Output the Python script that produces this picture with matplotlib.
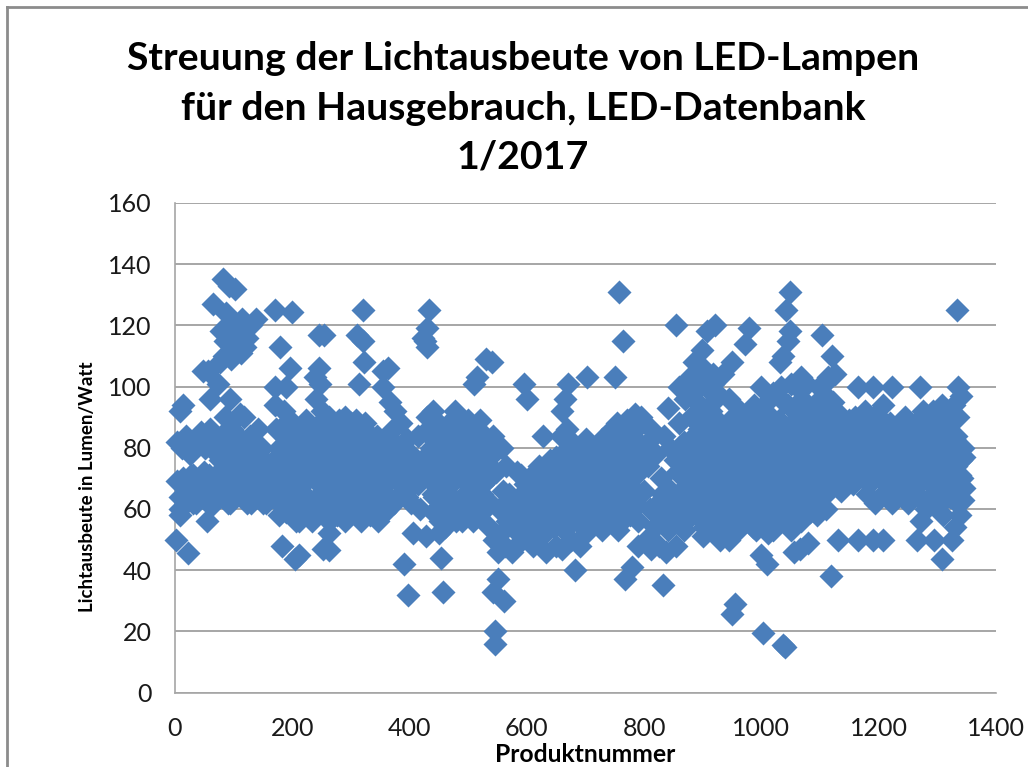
import numpy as np
import matplotlib
matplotlib.use('Agg')
import matplotlib.pyplot as plt
from matplotlib.lines import Line2D

plt.rcParams['font.family'] = ['Lato', 'DejaVu Sans']

TITEL = "Streuung der Lichtausbeute von LED-Lampen\nfür den Hausgebrauch, LED-Datenbank\n1/2017"
X_TICKS = [0, 200, 400, 600, 800, 1000, 1200, 1400]
Y_TICKS = [0, 20, 40, 60, 80, 100, 120, 140, 160]

# Ausreisser
ausreisser = [
    (82, 135), (92, 133), (102, 132), (64, 127), (87, 124), (170, 125), (199, 124.5), (321, 125), (433, 125),
    (246, 117), (254, 117), (310, 117), (321, 115), (429, 119), (423, 116), (429, 113), (427, 115), (179, 113),
    (322, 108), (48, 105), (56, 105), (196, 106), (246, 106), (238, 103), (364, 106), (355, 105),
    (314, 101), (170, 100), (190, 100), (247, 101), (355, 100), (13, 94), (9, 92), (74, 101), (60, 96), (94, 96),
    (2, 50), (22, 45.5), (54, 56), (8, 58), (182, 48), (204, 43.5), (212, 45), (263, 52), (262, 46.5), (252, 47),
    (390, 42), (398, 32), (457, 33), (453, 44), (406, 52), (428, 51), (450, 52), (460, 54),
    (545, 20), (546, 16), (561, 30), (551, 37), (542, 33), (628, 84), (682, 40), (660, 47),
    (530, 109), (541, 108), (515, 103), (510, 101), (757, 131), (764, 115), (703, 103), (750, 103), (855, 120),
    (860, 100), (840, 93), (785, 91), (768, 37), (780, 41), (789, 48), (832, 35),
    (595, 101), (600, 96), (670, 101), (665, 96), (660, 92), (855, 48), (812, 47),
    (920, 120), (908, 118), (898, 112), (885, 108), (878, 103), (950, 108), (935, 104),
    (978, 119), (972, 114), (1000, 100), (955, 29), (950, 25.5), (945, 50), (1003, 19.5), (1040, 15), (1036, 15.5),
    (1048, 131), (1042, 125), (1048, 118), (1046, 115), (1036, 110), (1032, 108), (1103, 117), (1120, 110),
    (1125, 104), (1113, 103), (1119, 38), (1130, 50), (1110, 70), (1095, 58), (1065, 47), (1055, 46), (1080, 49),
    (1165, 100), (1190, 100), (1222, 100), (1270, 100), (1333, 125), (1336, 100), (1340, 97),
    (1165, 50), (1190, 50), (1208, 50), (1265, 50), (1308, 43.5), (1295, 50), (1325, 50), (1330, 54),
    (1345, 67), (1343, 63), (1338, 58), (1010, 42), (1000, 45), (930, 50), (900, 51),
    # obere Wolke bei Produkt 70-140
    (78, 118), (85, 115), (92, 120), (100, 112), (108, 118), (115, 122), (122, 116), (130, 120), (138, 122), (96, 109),
    (104, 116), (112, 111), (120, 113), (84, 110), (76, 108),
]

# dichter Bereich links
punkte_links = [
    (3, 82), (12, 80), (18, 84), (26, 78), (34, 82), (44, 85), (52, 80), (60, 86), (70, 84), (78, 79),
    (3, 69), (8, 64), (14, 70), (9, 60), (22, 66), (28, 71), (36, 62), (42, 68), (50, 72), (55, 64),
    (62, 61), (68, 68), (75, 72), (82, 64), (90, 62), (96, 70), (100, 76), (108, 84), (112, 70), (118, 90),
    (76, 76), (86, 90), (98, 86), (110, 91), (120, 78), (128, 84), (134, 72), (142, 86), (150, 76), (158, 68),
    (120, 66), (130, 62), (140, 70), (148, 80), (155, 62), (163, 74), (172, 86), (178, 58), (182, 66), (186, 92),
    (170, 94), (178, 80), (188, 72), (194, 60), (200, 84), (206, 68), (212, 56), (218, 78), (224, 64), (230, 58),
    (176, 74), (190, 88), (204, 62), (214, 72), (228, 76), (236, 86), (242, 70), (250, 60), (256, 80), (262, 90),
    (240, 96), (250, 92), (258, 66), (268, 74), (276, 58), (284, 84), (292, 68), (300, 88), (306, 62), (314, 78),
    (270, 86), (280, 72), (290, 90), (298, 60), (308, 72), (318, 64), (324, 88), (332, 58), (338, 76), (344, 84),
    (326, 68), (336, 66), (348, 60), (354, 74), (360, 68), (366, 95), (372, 86), (378, 64), (384, 80), (392, 72),
    (358, 80), (368, 72), (376, 92), (386, 88), (396, 64), (402, 78), (408, 68), (414, 84), (418, 60), (424, 72),
    (430, 90), (436, 80), (442, 64), (448, 88), (454, 74), (460, 60), (466, 84), (472, 70), (478, 92), (484, 62),
    (440, 92), (452, 66), (464, 76), (476, 80), (488, 74), (494, 84), (500, 66), (506, 78), (512, 58), (518, 72),
    (430, 72), (446, 58), (470, 64), (490, 56), (500, 86), (510, 84), (520, 89), (526, 68), (532, 78), (538, 62),
    (524, 60), (534, 70), (542, 84), (548, 72), (552, 60), (558, 80), (564, 74), (536, 54), (544, 50), (550, 46),
]

# dichter Bereich Mitte
punkte_mitte = [
    (556, 52), (562, 48), (568, 58), (574, 46), (580, 54), (586, 64), (592, 50), (598, 60), (604, 70), (610, 48),
    (560, 66), (572, 62), (584, 72), (596, 68), (606, 56), (614, 64), (620, 74), (626, 52), (632, 46), (638, 60),
    (618, 50), (630, 68), (640, 76), (646, 54), (652, 66), (658, 84), (664, 58), (670, 74), (676, 50), (682, 64),
    (650, 48), (660, 78), (668, 86), (672, 62), (680, 70), (688, 58), (694, 76), (700, 52), (706, 66), (712, 80),
    (690, 48), (700, 72), (710, 60), (718, 70), (724, 56), (730, 74), (736, 84), (742, 62), (748, 78), (754, 88),
    (720, 66), (730, 60), (740, 72), (746, 86), (756, 68), (762, 80), (768, 88), (774, 72), (780, 84), (786, 62),
    (760, 74), (770, 78), (776, 58), (788, 76), (794, 90), (800, 66), (806, 74), (812, 86), (818, 54), (824, 62),
    (796, 80), (804, 50), (810, 60), (820, 78), (828, 70), (834, 58), (838, 46), (842, 54), (846, 66), (852, 76),
    (826, 48), (834, 84), (844, 80), (850, 60), (856, 72), (862, 56), (868, 82), (874, 68), (880, 90), (886, 76),
    (860, 88), (870, 96), (878, 60), (884, 98), (890, 64), (896, 84), (902, 54), (908, 72), (914, 92), (920, 60),
    (890, 102), (900, 106), (906, 100), (912, 64), (918, 104), (926, 80), (932, 68), (938, 56), (944, 96), (948, 74),
    (894, 70), (904, 58), (924, 98), (930, 88), (936, 76), (942, 62), (952, 84), (956, 54), (960, 70), (964, 92),
]

# dichter Bereich rechts
punkte_rechts = [
    (958, 64), (966, 58), (970, 78), (976, 86), (982, 66), (986, 54), (990, 74), (994, 90), (1000, 60), (1004, 82),
    (968, 72), (978, 60), (988, 94), (996, 68), (1008, 72), (1012, 52), (1016, 88), (1020, 98), (1024, 62), (1028, 78),
    (1006, 92), (1014, 66), (1022, 56), (1030, 86), (1034, 100), (1038, 70), (1042, 60), (1046, 94), (1050, 80), (1054, 62),
    (1040, 84), (1048, 74), (1056, 88), (1060, 100), (1064, 72), (1068, 103), (1072, 82), (1076, 66), (1080, 92), (1084, 60),
    (1070, 96), (1078, 86), (1086, 76), (1090, 90), (1094, 68), (1098, 100), (1102, 82), (1106, 94), (1110, 60), (1114, 76),
    (1100, 74), (1108, 88), (1116, 96), (1120, 84), (1124, 72), (1128, 92), (1132, 80), (1136, 66), (1140, 86), (1144, 76),
    (1148, 88), (1152, 70), (1156, 82), (1160, 90), (1164, 76), (1168, 84), (1172, 72), (1176, 92), (1180, 80), (1184, 86),
    (1188, 74), (1192, 90), (1196, 78), (1200, 84), (1204, 70), (1208, 94), (1212, 80), (1216, 64), (1220, 88), (1224, 74),
    (1228, 82), (1232, 68), (1236, 86), (1240, 78), (1244, 90), (1248, 72), (1252, 84), (1256, 76), (1260, 66), (1264, 88),
    (1268, 80), (1272, 56), (1276, 92), (1280, 70), (1284, 84), (1288, 62), (1292, 92), (1296, 76), (1300, 88), (1304, 66),
    (1272, 70), (1280, 60), (1290, 82), (1298, 70), (1306, 84), (1310, 58), (1314, 74), (1318, 90), (1322, 64), (1326, 80),
    (1308, 94), (1316, 68), (1324, 72), (1328, 94), (1332, 84), (1336, 90), (1340, 76), (1344, 80), (1334, 66), (1342, 70),
]

zeile_53 = [580, 608, 636, 664, 700, 728, 756, 840, 868, 930, 960, 990, 1020, 1050]
zeile_56 = [206, 234, 262, 290, 318, 346, 452, 480, 508, 566, 594, 622, 650, 678, 706, 734, 762, 790, 844, 872, 900,
            928, 956, 984, 1012, 1040, 1068]
zeile_59 = [190, 218, 246, 274, 302, 330, 358, 440, 468, 496, 524, 580, 608, 636, 664, 692, 720, 748, 776,
            830, 858, 886, 914, 942, 970, 998, 1026, 1054, 1082]
zeile_62 = [30, 58, 94, 122, 150, 178, 206, 234, 262, 290, 318, 346, 374, 402, 454, 482, 510, 538, 584, 612, 640,
            668, 696, 724, 752, 780, 844, 872, 900, 928, 956, 984, 1012, 1040, 1068, 1096, 1194, 1222, 1250, 1278,
            1306, 1334]
zeile_65 = [24, 52, 80, 108, 136, 164, 192, 220, 248, 276, 304, 332, 360, 388, 440, 468, 496, 524, 570, 598, 626,
            654, 682, 710, 738, 766, 794, 830, 858, 886, 914, 942, 970, 998, 1026, 1054, 1082, 1110, 1180, 1208,
            1236, 1264, 1292, 1320]
zeile_68 = [16, 44, 72, 100, 134, 162, 190, 218, 246, 274, 302, 330, 358, 386, 414, 442, 470, 498, 526, 604, 632, 660,
            688, 716, 744, 772, 876, 904, 932, 960, 988, 1016, 1044, 1072, 1100, 1128, 1156, 1184, 1212, 1240,
            1268, 1296, 1324]
zeile_71 = [30, 58, 120, 148, 176, 204, 232, 260, 288, 316, 344, 372, 400, 428, 456, 484, 512, 540, 590, 618, 646,
            674, 702, 730, 758, 786, 890, 918, 946, 974, 1002, 1030, 1058, 1086, 1114, 1142, 1170, 1198, 1226,
            1254, 1282, 1310, 1338]
zeile_74 = [104, 132, 160, 188, 216, 244, 272, 300, 328, 356, 384, 412, 440, 468, 496, 524, 636, 664, 692, 720, 748,
            776, 884, 912, 940, 968, 996, 1024, 1052, 1080, 1108, 1136, 1164, 1192, 1220, 1248, 1276, 1304, 1332]
zeile_77 = [90, 118, 146, 174, 202, 230, 258, 286, 314, 342, 370, 398, 426, 454, 482, 510, 538, 650, 678, 706, 734,
            762, 790, 870, 898, 926, 954, 982, 1010, 1038, 1066, 1094, 1122, 1150, 1178, 1206, 1234, 1262, 1290,
            1318, 1346]
zeile_80 = [34, 62, 90, 118, 146, 186, 214, 242, 270, 298, 326, 354, 382, 454, 482, 510, 538, 686, 714, 742, 770, 798,
            866, 894, 922, 950, 978, 1006, 1034, 1062, 1090, 1118, 1146, 1174, 1202, 1230, 1258, 1286, 1314, 1342]
zeile_83 = [20, 48, 76, 104, 132, 200, 228, 256, 284, 312, 340, 368, 396, 440, 468, 496, 524, 672, 700, 728, 756,
            784, 812, 880, 908, 936, 964, 992, 1020, 1048, 1076, 1104, 1132, 1160, 1188, 1216, 1244, 1272, 1300, 1328]
zeile_86 = [90, 182, 210, 238, 266, 294, 322, 432, 460, 488, 516, 758, 786, 894, 922, 950, 978, 1006, 1034, 1062,
            1090, 1118, 1146, 1174, 1202, 1258, 1286, 1314]
zeile_89 = [196, 224, 252, 280, 308, 444, 472, 500, 770, 890, 918, 946, 974, 1002, 1030, 1058, 1086, 1114, 1150,
            1178, 1206, 1270, 1298, 1326]
zeile_95 = [890, 918, 1010, 1038, 1066, 1094, 1122]
zeile_101 = [890, 918, 1050, 1078, 1106]

zeilen = [(53, zeile_53), (56, zeile_56), (59, zeile_59), (62, zeile_62), (65, zeile_65), (68, zeile_68),
          (71, zeile_71), (74, zeile_74), (77, zeile_77), (80, zeile_80), (83, zeile_83), (86, zeile_86),
          (89, zeile_89), (95, zeile_95), (101, zeile_101)]
punkte_zeilen = [(x, wert) for wert, zeile in zeilen for x in zeile]

punkte = np.array(ausreisser + punkte_links + punkte_mitte + punkte_rechts + punkte_zeilen)
produkt = punkte[:, 0]
ausbeute = punkte[:, 1]

fig = plt.figure(figsize=(10.28, 7.67), dpi=100)
ax = fig.add_axes([175 / 1028, 1 - 692.5 / 767, (996 - 175) / 1028, (692.5 - 203) / 767])

ax.scatter(produkt, ausbeute, marker='D', s=150, color='#4a7ebb', linewidths=0, zorder=3, clip_on=False)

ax.set_xlim(0, 1400)
ax.set_ylim(0, 160)
ax.set_xticks(X_TICKS)
ax.set_yticks(Y_TICKS)
ax.grid(axis='y', color='#a6a6a6', lw=1.4, zorder=1)
ax.set_axisbelow(True)
for side in ['top', 'right']:
    ax.spines[side].set_visible(False)
for side in ['left', 'bottom']:
    ax.spines[side].set_color('#a6a6a6')
    ax.spines[side].set_linewidth(1.2)
ax.tick_params(length=0, labelsize=18, colors='#1a1a1a')
ax.tick_params(axis='x', pad=18)
ax.tick_params(axis='y', pad=17)

fig.text(523 / 1028, 1 - 108 / 767, TITEL, ha='center', va='center', fontsize=28.3, fontweight='bold',
         linespacing=1.5, color='black')
fig.text(88 / 1028, 1 - 487 / 767, "Lichtausbeute in Lumen/Watt", rotation=90, ha='center', va='center',
         fontsize=13.5, fontweight='bold', color='black')
fig.text(585 / 1028, 1 - 755 / 767, "Produktnummer", ha='center', va='center', fontsize=17.8, fontweight='bold',
         color='black')

# Rahmen des Diagramms, rechts und unten abgeschnitten
fig.add_artist(Line2D([7 / 1028, 7 / 1028], [0, 1 - 7 / 767], color='#8c8c8c', lw=2))
fig.add_artist(Line2D([7 / 1028, 1], [1 - 7 / 767, 1 - 7 / 767], color='#8c8c8c', lw=2))

fig.savefig('out.png', dpi=100)
